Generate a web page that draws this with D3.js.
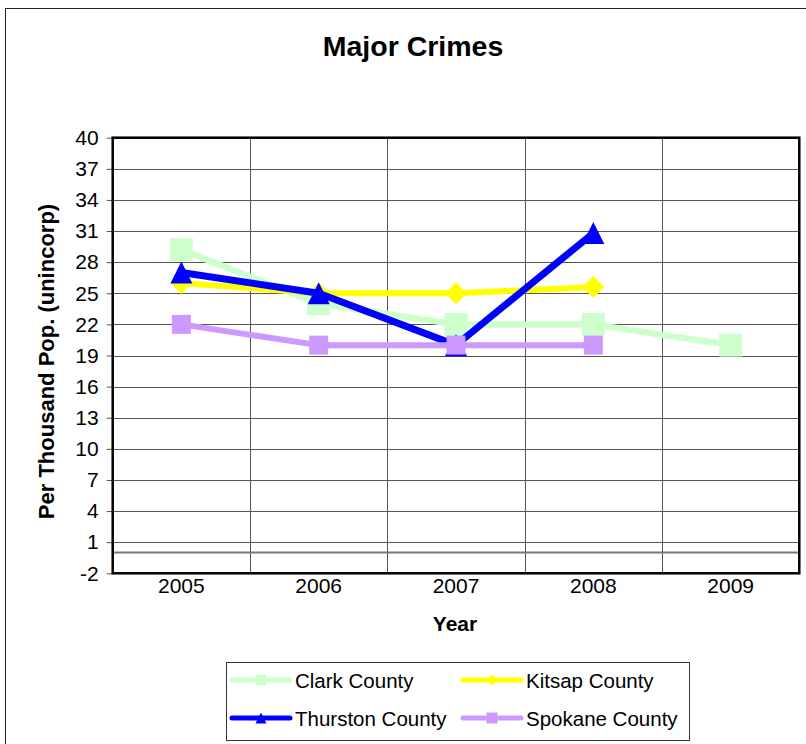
<!DOCTYPE html>
<html>
<head>
<meta charset="utf-8">
<script src="https://cdn.jsdelivr.net/npm/d3@7"></script>
<style>
  html, body { margin: 0; padding: 0; background: #fff; }
  svg { display: block; font-family: "Liberation Sans", Arial, sans-serif; }
</style>
</head>
<body>
<svg id="chart" width="806" height="744"></svg>
<script>
// Major crimes per thousand population (unincorporated areas), by county
const years = ["2005", "2006", "2007", "2008", "2009"];
const yTicks = [-2, 1, 4, 7, 10, 13, 16, 19, 22, 25, 28, 31, 34, 37, 40];

const clarkValues    = [29.2, 24, 22, 22, 20];
const kitsapValues   = [26, 25, 25, 25.6, null];
const thurstonValues = [27, 25, 20, 30.8, null];
const spokaneValues  = [22, 20, 20, 20, null];

const seriesNames = ["Clark County", "Kitsap County", "Thurston County", "Spokane County"];

const series = [
  { name: seriesNames[0], values: clarkValues,    color: "#CCFFCC", marker: "square",   size: 23, width: 6.5 },
  { name: seriesNames[1], values: kitsapValues,   color: "#FFFF00", marker: "diamond",  size: 22, width: 6 },
  { name: seriesNames[2], values: thurstonValues, color: "#0000FF", marker: "triangle", size: 22, width: 7 },
  { name: seriesNames[3], values: spokaneValues,  color: "#CC99FF", marker: "square",   size: 19, width: 6 }
];

const svg = d3.select("#chart");

// outer chart frame
svg.append("rect")
  .attr("x", 5.5).attr("y", 8.5).attr("width", 830).attr("height", 760)
  .attr("fill", "#fff").attr("stroke", "#222").attr("stroke-width", 1);

const plot = { left: 112.7, right: 799.3, top: 137.7, bottom: 573.3 };

const x = d3.scaleBand().domain(years).range([plot.left, plot.right]);
const y = d3.scaleLinear().domain([-2, 40]).range([plot.bottom, plot.top]);

// title
svg.append("text")
  .attr("x", 413).attr("y", 56)
  .attr("text-anchor", "middle")
  .attr("font-size", 28.5).attr("font-weight", "bold")
  .text("Major Crimes");

// horizontal gridlines
svg.append("g").selectAll("line")
  .data(yTicks.slice(1))
  .join("line")
  .attr("x1", plot.left).attr("x2", plot.right)
  .attr("y1", d => Math.round(y(d)) + 0.5).attr("y2", d => Math.round(y(d)) + 0.5)
  .attr("stroke", "#555").attr("stroke-width", 1);

// vertical gridlines at category boundaries
svg.append("g").selectAll("line")
  .data(years.slice(1))
  .join("line")
  .attr("x1", d => Math.round(x(d)) + 0.5).attr("x2", d => Math.round(x(d)) + 0.5)
  .attr("y1", plot.top).attr("y2", plot.bottom)
  .attr("stroke", "#555").attr("stroke-width", 1);

// zero line
svg.append("line")
  .attr("x1", plot.left).attr("x2", plot.right)
  .attr("y1", y(0)).attr("y2", y(0))
  .attr("stroke", "#777").attr("stroke-width", 2);

// y axis
const yAxis = d3.axisLeft(y).tickValues(yTicks).tickSize(6).tickPadding(8).tickFormat(d => String(d));
const yG = svg.append("g").attr("transform", `translate(${plot.left},0)`).call(yAxis);
yG.select(".domain").remove();
yG.selectAll(".tick line").attr("stroke", "#555");
yG.selectAll(".tick text").attr("font-size", 21).attr("fill", "#000")
  .attr("font-family", "Liberation Sans, Arial, sans-serif");

// x axis
const xAxis = d3.axisBottom(x).tickSize(0).tickPadding(5);
const xG = svg.append("g").attr("transform", `translate(0,${plot.bottom})`).call(xAxis);
xG.select(".domain").remove();
xG.selectAll(".tick text").attr("font-size", 21).attr("fill", "#000")
  .attr("font-family", "Liberation Sans, Arial, sans-serif");

// plot border
svg.append("rect")
  .attr("x", plot.left).attr("y", plot.top)
  .attr("width", plot.right - plot.left).attr("height", plot.bottom - plot.top)
  .attr("fill", "none").attr("stroke", "#000").attr("stroke-width", 2.5);

// axis titles
svg.append("text")
  .attr("transform", `translate(54,${(plot.top + plot.bottom) / 2 + 6}) rotate(-90)`)
  .attr("text-anchor", "middle")
  .attr("font-size", 22).attr("font-weight", "bold")
  .text("Per Thousand Pop. (unincorp)");

svg.append("text")
  .attr("x", 455).attr("y", 631)
  .attr("text-anchor", "middle")
  .attr("font-size", 21).attr("font-weight", "bold")
  .text("Year");

// marker path generator
function markerPath(type, s) {
  const h = s / 2;
  if (type === "square") return `M${-h},${-h}H${h}V${h}H${-h}Z`;
  if (type === "diamond") return `M0,${-h}L${h},0L0,${h}L${-h},0Z`;
  // triangle
  return `M0,${-h}L${h},${h}L${-h},${h}Z`;
}

const cx = d => x(d) + x.bandwidth() / 2;

const lineGen = d3.line()
  .defined(d => d.v != null)
  .x(d => cx(d.year))
  .y(d => y(d.v));

series.forEach(s => {
  const pts = years.map((yr, i) => ({ year: yr, v: s.values[i] }));
  const g = svg.append("g");
  g.append("path")
    .datum(pts)
    .attr("d", lineGen)
    .attr("fill", "none")
    .attr("stroke", s.color)
    .attr("stroke-width", s.width)
    .attr("stroke-linejoin", "round");
  g.selectAll("path.mk")
    .data(pts.filter(d => d.v != null))
    .join("path")
    .attr("class", "mk")
    .attr("transform", d => `translate(${cx(d.year)},${y(d.v)})`)
    .attr("d", markerPath(s.marker, s.size))
    .attr("fill", s.color);
});

// legend
const legend = svg.append("g");
legend.append("rect")
  .attr("x", 226.5).attr("y", 662.5).attr("width", 463).attr("height", 78)
  .attr("fill", "#fff").attr("stroke", "#333").attr("stroke-width", 1);

const legendPos = [
  { x: 232, y: 680 },
  { x: 463, y: 680 },
  { x: 232, y: 718 },
  { x: 463, y: 718 }
];

series.forEach((s, i) => {
  const p = legendPos[i];
  const item = legend.append("g").attr("transform", `translate(${p.x},${p.y})`);
  item.append("line")
    .attr("x1", 0).attr("x2", 58).attr("y1", 0).attr("y2", 0)
    .attr("stroke", s.color).attr("stroke-width", 5).attr("stroke-linecap", "round");
  item.append("path")
    .attr("transform", "translate(29,0)")
    .attr("d", markerPath(s.marker, 11))
    .attr("fill", s.color);
  item.append("text")
    .attr("x", 63).attr("y", 7.5)
    .attr("font-size", 20.5).attr("fill", "#000")
    .text(s.name);
});
</script>
</body>
</html>
